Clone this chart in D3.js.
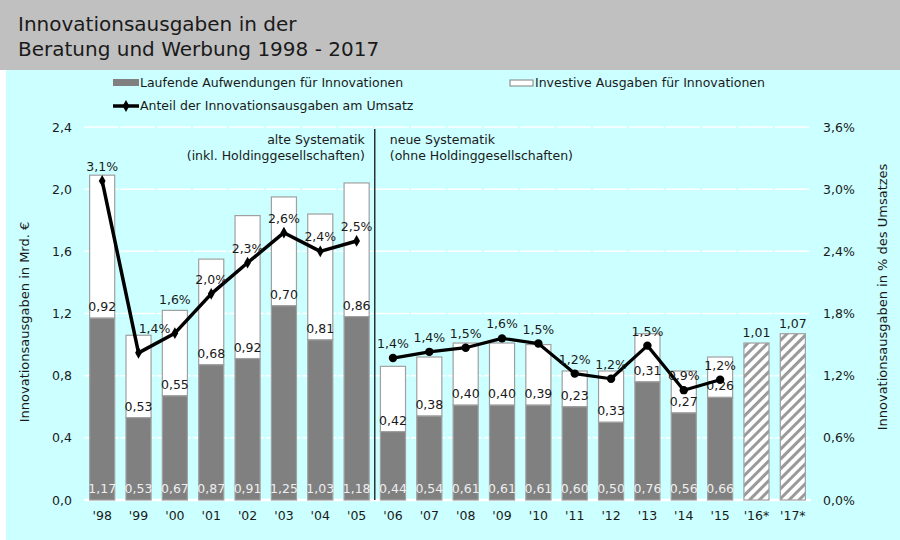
<!DOCTYPE html>
<html>
<head>
<meta charset="utf-8">
<script src="https://cdn.jsdelivr.net/npm/d3@7"></script>
<style>
  body { margin: 0; background: #fff; }
  svg { display: block; font-family: "DejaVu Sans", Verdana, sans-serif; }
</style>
</head>
<body>
<svg id="chart"></svg>
<script>
// Jahre (Kategorien)
const years = ["'98", "'99", "'00", "'01", "'02", "'03", "'04", "'05", "'06", "'07",
               "'08", "'09", "'10", "'11", "'12", "'13", "'14", "'15", "'16*", "'17*"];

// Laufende Aufwendungen (Mrd. €)
const laufend = [1.17, 0.53, 0.67, 0.87, 0.91, 1.25, 1.03, 1.18, 0.44, 0.54,
                 0.61, 0.61, 0.61, 0.60, 0.50, 0.76, 0.56, 0.66];
// Investive Ausgaben (Mrd. €)
const investiv = [0.92, 0.53, 0.55, 0.68, 0.92, 0.70, 0.81, 0.86, 0.42, 0.38,
                  0.40, 0.40, 0.39, 0.23, 0.33, 0.31, 0.27, 0.26];
// Prognose gesamt ('16*, '17*)
const prognoseYears = ["'16*", "'17*"];
const prognose = [1.01, 1.07];

// Anteil am Umsatz (%), Lage der Punkte und beschriftete Werte
const anteil = [3.08, 1.42, 1.61, 1.99, 2.29, 2.58, 2.40, 2.50, 1.37, 1.43,
                1.47, 1.56, 1.51, 1.22, 1.17, 1.49, 1.06, 1.16];
const anteilLabels = ["3,1%", "1,4%", "1,6%", "2,0%", "2,3%", "2,6%", "2,4%", "2,5%", "1,4%", "1,4%",
                      "1,5%", "1,6%", "1,5%", "1,2%", "1,2%", "1,5%", "0,9%", "1,2%"];

const leftTicks = [0, 0.4, 0.8, 1.2, 1.6, 2.0, 2.4];
const rightTicks = [0, 0.6, 1.2, 1.8, 2.4, 3.0, 3.6];
const breakIndex = 8; // ab '06 neue Systematik

const W = 900, H = 540;
const plot = { left: 84, right: 811, top: 127, bottom: 500 };
const fmt = (v, d) => v.toFixed(d).replace('.', ',');

const svg = d3.select('#chart').attr('width', W).attr('height', H);

// Hintergrund
svg.append('rect').attr('width', W).attr('height', H).attr('fill', '#fff');
svg.append('rect').attr('x', 6).attr('y', 70).attr('width', W - 6).attr('height', H - 70).attr('fill', '#ccffff');
svg.append('rect').attr('width', W).attr('height', 70).attr('fill', '#c0c0c0');

// Titel
const title = svg.append('text').attr('x', 18).attr('font-size', 20).attr('fill', '#1a1a1a');
title.append('tspan').attr('x', 18).attr('y', 31).text('Innovationsausgaben in der');
title.append('tspan').attr('x', 18).attr('y', 56).text('Beratung und Werbung 1998 - 2017');

// Skalen
const x = d3.scaleBand()
    .domain(years)
    .range([plot.left, plot.right])
    .paddingInner(0.31)
    .paddingOuter(0.155);

const y = d3.scaleLinear().domain([0, 2.4]).range([plot.bottom, plot.top]);
const y2 = d3.scaleLinear().domain([0, 3.6]).range([plot.bottom, plot.top]);

const step = x.step();

// Schraffur für Prognose
const defs = svg.append('defs');
const pat = defs.append('pattern')
    .attr('id', 'hatch')
    .attr('patternUnits', 'userSpaceOnUse')
    .attr('width', 7).attr('height', 7)
    .attr('patternTransform', 'rotate(45)');
pat.append('rect').attr('width', 7).attr('height', 7).attr('fill', '#fff');
pat.append('rect').attr('width', 3).attr('height', 7).attr('fill', '#9a9a9a');

// Gitterlinien
svg.append('g')
    .selectAll('line')
    .data(leftTicks)
    .join('line')
    .attr('x1', plot.left).attr('x2', plot.right)
    .attr('y1', d => y(d)).attr('y2', d => y(d))
    .attr('stroke', '#fff')
    .attr('stroke-width', d => d === 0 ? 2.5 : 1.5)
    .attr('stroke-dasharray', d => d === 0 ? null : `${step - 2},2`);

// Achsen (nur Beschriftung)
const yAxis = svg.append('g')
    .attr('transform', `translate(${plot.left},0)`)
    .call(d3.axisLeft(y).tickValues(leftTicks).tickSize(0).tickPadding(12).tickFormat(d => fmt(d, 1)));
const y2Axis = svg.append('g')
    .attr('transform', `translate(${plot.right},0)`)
    .call(d3.axisRight(y2).tickValues(rightTicks).tickSize(0).tickPadding(12).tickFormat(d => fmt(d, 1) + '%'));
const xAxis = svg.append('g')
    .attr('transform', `translate(0,${plot.bottom})`)
    .call(d3.axisBottom(x).tickSize(0).tickPadding(11));

[yAxis, y2Axis, xAxis].forEach(a => {
    a.select('.domain').remove();
    a.selectAll('text')
        .attr('font-family', '"DejaVu Sans", Verdana, sans-serif')
        .attr('font-size', 12.5)
        .attr('fill', '#1a1a1a');
});

// Achsentitel
svg.append('text')
    .attr('transform', `translate(29,322) rotate(-90)`)
    .attr('text-anchor', 'middle')
    .attr('font-size', 13)
    .attr('fill', '#1a1a1a')
    .text('Innovationsausgaben in Mrd. €');
svg.append('text')
    .attr('transform', `translate(887,297) rotate(-90)`)
    .attr('text-anchor', 'middle')
    .attr('font-size', 13)
    .attr('fill', '#1a1a1a')
    .text('Innovationsausgaben in % des Umsatzes');

// Balken
const barData = laufend.map((v, i) => ({ year: years[i], lauf: v, inv: investiv[i] }));
const bars = svg.append('g');

bars.selectAll('.inv')
    .data(barData)
    .join('rect')
    .attr('class', 'inv')
    .attr('x', d => x(d.year))
    .attr('width', x.bandwidth())
    .attr('y', d => y(d.lauf + d.inv))
    .attr('height', d => y(d.lauf) - y(d.lauf + d.inv))
    .attr('fill', '#fff')
    .attr('stroke', '#a0a0a0')
    .attr('stroke-width', 1.2);

bars.selectAll('.lauf')
    .data(barData)
    .join('rect')
    .attr('class', 'lauf')
    .attr('x', d => x(d.year))
    .attr('width', x.bandwidth())
    .attr('y', d => y(d.lauf))
    .attr('height', d => y(0) - y(d.lauf))
    .attr('fill', '#808080')
    .attr('stroke', '#a0a0a0')
    .attr('stroke-width', 1.2);

bars.selectAll('.prog')
    .data(prognose)
    .join('rect')
    .attr('class', 'prog')
    .attr('x', (d, i) => x(prognoseYears[i]))
    .attr('width', x.bandwidth())
    .attr('y', d => y(d))
    .attr('height', d => y(0) - y(d))
    .attr('fill', 'url(#hatch)')
    .attr('stroke', '#a0a0a0')
    .attr('stroke-width', 1.2);

// Balkenbeschriftungen
const labels = svg.append('g').attr('font-size', 12.5).attr('text-anchor', 'middle');

labels.selectAll('.lbl-inv')
    .data(barData)
    .join('text')
    .attr('x', d => x(d.year) + x.bandwidth() / 2)
    .attr('y', d => y(d.lauf) - 7)
    .attr('fill', '#1a1a1a')
    .text(d => fmt(d.inv, 2));

labels.selectAll('.lbl-lauf')
    .data(barData)
    .join('text')
    .attr('x', d => x(d.year) + x.bandwidth() / 2)
    .attr('y', y(0) - 7)
    .attr('fill', '#eeeeee')
    .text(d => fmt(d.lauf, 2));

labels.selectAll('.lbl-prog')
    .data(prognose)
    .join('text')
    .attr('x', (d, i) => x(prognoseYears[i]) + x.bandwidth() / 2)
    .attr('y', d => y(d) - 6)
    .attr('fill', '#1a1a1a')
    .text(d => fmt(d, 2));

// Trennlinie alte / neue Systematik
const sepX = x(years[breakIndex]) - step * x.paddingInner() / 2;
svg.append('line')
    .attr('x1', sepX).attr('x2', sepX)
    .attr('y1', 129).attr('y2', plot.bottom)
    .attr('stroke', '#000').attr('stroke-width', 1.2);

const note = svg.append('g').attr('font-size', 12.5).attr('fill', '#1a1a1a');
note.append('text').attr('x', sepX - 10).attr('y', 144).attr('text-anchor', 'end').text('alte Systematik');
note.append('text').attr('x', sepX - 10).attr('y', 160).attr('text-anchor', 'end').text('(inkl. Holdinggesellschaften)');
note.append('text').attr('x', sepX + 15).attr('y', 144).text('neue Systematik');
note.append('text').attr('x', sepX + 15).attr('y', 160).text('(ohne Holdinggesellschaften)');

// Linie Anteil am Umsatz
const pts = anteil.map((v, i) => ({ year: years[i], v, label: anteilLabels[i], i }));
const line = d3.line()
    .x(d => x(d.year) + x.bandwidth() / 2)
    .y(d => y2(d.v));

const oldPts = pts.filter(d => d.i < breakIndex);
const newPts = pts.filter(d => d.i >= breakIndex);

svg.append('path')
    .datum(oldPts)
    .attr('d', line)
    .attr('fill', 'none')
    .attr('stroke', '#000')
    .attr('stroke-width', 3.5)
    .attr('stroke-linejoin', 'round');
svg.append('path')
    .datum(newPts)
    .attr('d', line)
    .attr('fill', 'none')
    .attr('stroke', '#000')
    .attr('stroke-width', 3.2)
    .attr('stroke-linejoin', 'round');

svg.append('g')
    .selectAll('path')
    .data(oldPts)
    .join('path')
    .attr('transform', d => `translate(${x(d.year) + x.bandwidth() / 2},${y2(d.v)})`)
    .attr('d', d3.symbol(d3.symbolDiamond, 40))
    .attr('fill', '#000');
svg.append('g')
    .selectAll('circle')
    .data(newPts)
    .join('circle')
    .attr('cx', d => x(d.year) + x.bandwidth() / 2)
    .attr('cy', d => y2(d.v))
    .attr('r', 4.2)
    .attr('fill', '#000');

svg.append('g')
    .attr('font-size', 12.5)
    .attr('text-anchor', 'middle')
    .attr('fill', '#1a1a1a')
    .selectAll('text')
    .data(pts)
    .join('text')
    .attr('x', d => x(d.year) + x.bandwidth() / 2 + (d.i === 1 ? 16 : 0))
    .attr('y', d => y2(d.v) - (d.i === 1 ? 20 : d.i === 2 ? 29 : 10))
    .text(d => d.label);

// Legende
const legend = svg.append('g').attr('font-size', 12.5).attr('fill', '#1a1a1a');
legend.append('rect').attr('x', 113).attr('y', 79).attr('width', 26).attr('height', 7).attr('fill', '#808080');
legend.append('text').attr('x', 140).attr('y', 87).text('Laufende Aufwendungen für Innovationen');
legend.append('rect').attr('x', 510).attr('y', 80).attr('width', 23).attr('height', 6)
    .attr('fill', '#fff').attr('stroke', '#808080').attr('stroke-width', 1);
legend.append('text').attr('x', 535).attr('y', 87).text('Investive Ausgaben für Innovationen');
legend.append('line').attr('x1', 113).attr('x2', 139).attr('y1', 106).attr('y2', 106)
    .attr('stroke', '#000').attr('stroke-width', 3.5);
legend.append('path').attr('transform', 'translate(126,106)')
    .attr('d', d3.symbol(d3.symbolDiamond, 40)).attr('fill', '#000');
legend.append('text').attr('x', 140).attr('y', 110).text('Anteil der Innovationsausgaben am Umsatz');
</script>
</body>
</html>
